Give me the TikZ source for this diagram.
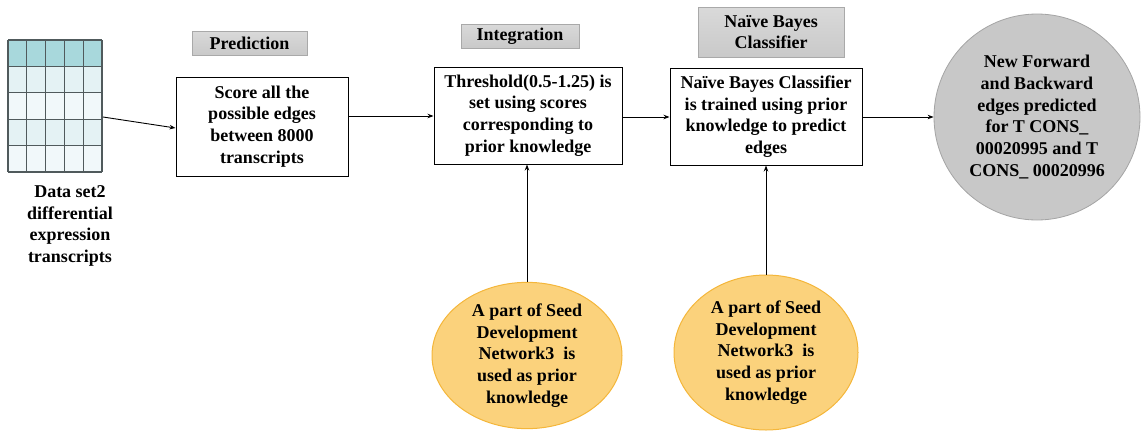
\documentclass[tikz,border=0pt]{standalone}
\usepackage{fontspec}
\setmainfont{Liberation Serif}
\usetikzlibrary{arrows.meta,shapes.geometric}
\definecolor{hdrteal}{HTML}{A8D8DC}
\definecolor{rowa}{HTML}{E4F2F4}
\definecolor{rowb}{HTML}{F1F8FA}
\definecolor{gridc}{HTML}{505A5C}
\definecolor{tagfill}{HTML}{C9C9C9}
\definecolor{tagline}{HTML}{A9A9A9}
\definecolor{orfill}{HTML}{FBD27C}
\definecolor{orline}{HTML}{F4B63A}
\definecolor{outfill}{HTML}{C8C8C8}
\definecolor{outline}{HTML}{A4A4A4}
\tikzset{
  txt/.style={font=\bfseries\fontsize{18}{21.7}\selectfont, align=center, text=black},
  stepbox/.style={txt, draw=black, line width=1pt, fill=white, inner sep=0pt},
  tagbox/.style={txt, draw=tagline, line width=0.8pt, top color=tagfill!70, bottom color=tagfill, inner sep=0pt},
  priorell/.style={txt, ellipse, draw=orline, line width=1pt, fill=orfill, inner sep=0pt},
  flow/.style={line width=0.9pt, -{Stealth[length=6pt,width=4.5pt]}},
}
\begin{document}
\begin{tikzpicture}[x=1pt,y=-1pt]
\useasboundingbox (0,0) rectangle (1146,437);

% data table with a teal header row
\fill[hdrteal] (8,40) rectangle (102,66.5);
\foreach \r in {1,...,4} {
  \pgfmathsetmacro{\ya}{40+26.4*\r}
  \pgfmathsetmacro{\yb}{40+26.4*(\r+1)}
  \ifodd\r \fill[rowa] (8,\ya) rectangle (102,\yb); \else \fill[rowb] (8,\ya) rectangle (102,\yb); \fi
}
\foreach \c in {0,...,5} { \draw[gridc, line width=1.1pt] ({8+18.8*\c},40) -- ({8+18.8*\c},172); }
\foreach \r in {0,...,5} { \draw[gridc, line width=1.1pt] (8,{40+26.4*\r}) -- (102,{40+26.4*\r}); }
\coordinate (tab) at (103,117);
\node[txt] (datalbl) at (70,226) {Data set2\\differential\\expression\\transcripts};

% stage tags
\node[tagbox, minimum width=115pt, minimum height=24pt] (tagpred) at (249.5,43) {Prediction};
\node[tagbox, minimum width=118pt, minimum height=24pt] (tagint) at (520,36) {Integration};
\node[tagbox, minimum width=146pt, minimum height=50pt] (tagnb) at (771,32) {Naïve Bayes\\Classifier};

% processing steps
\node[stepbox, minimum width=172pt, minimum height=99pt] (score) at (262,126.5) {Score all the\\possible edges\\between 8000\\transcripts};
\node[stepbox, minimum width=188pt, minimum height=97pt] (thresh) at (528,115.5) {Threshold(0.5-1.25) is\\set using scores\\corresponding to\\prior knowledge};
\node[stepbox, minimum width=192pt, minimum height=97pt] (train) at (766,116.5) {Naïve Bayes Classifier\\is trained using prior\\knowledge to predict\\edges};

% prior knowledge sources
\node[priorell, minimum width=190pt, minimum height=145pt] (prior1) at (527,355.5) {A part of Seed\\Development\\Network3\ \ is\\used as prior\\knowledge};
\node[priorell, minimum width=184pt, minimum height=155pt] (prior2) at (766,352.5) {A part of Seed\\Development\\Network3\ \ is\\used as prior\\knowledge};

% result
\node[txt, circle, draw=outline, line width=0.8pt, fill=outfill, minimum size=206pt, inner sep=0pt] (result) at (1037,117) {New Forward\\and Backward\\edges predicted\\for T CONS\_\\00020995 and T\\CONS\_ 00020996};

% connectors
\draw[flow] (tab) -- (score.west |- 0,128);
\draw[flow] (score.east |- 0,116) -- (thresh.west |- 0,116);
\draw[flow] (thresh.east |- 0,117) -- (train.west |- 0,117);
\draw[flow] (train.east |- 0,117) -- (result.west);
\draw[flow] (prior1.north) -- (prior1.north |- thresh.south);
\draw[flow] (prior2.north) -- (prior2.north |- train.south);
\end{tikzpicture}
\end{document}
